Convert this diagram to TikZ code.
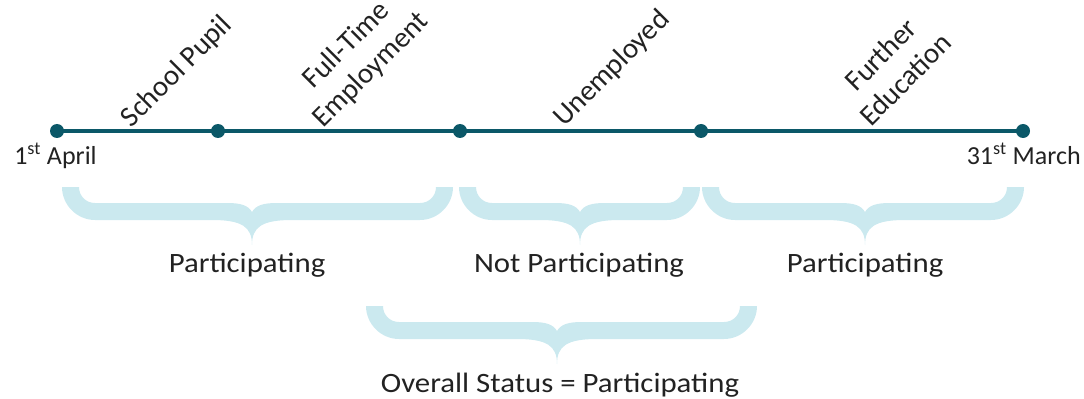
\documentclass[tikz,border=0pt]{standalone}
\usepackage{fontspec}
\setmainfont{Carlito}
\newfontfamily\labfont{Carlito}[FakeStretch=1.1]
\definecolor{tlteal}{RGB}{11,88,104}
\definecolor{bracecol}{RGB}{203,233,239}
\definecolor{txt}{RGB}{34,34,34}
\newcommand{\cbrace}[4]{% #1 left, #2 right, #3 tip x, #4 top y
  \fill[bracecol] (#1,#4) -- ({#1+17},#4)
    .. controls ({#1+17},{#4+9}) and ({#1+24},{#4+16}) .. ({#1+33},{#4+16})
    -- ({#3-25},{#4+16})
    .. controls ({#3-12},{#4+16}) and ({#3-4},{#4+18}) .. (#3,{#4+25})
    .. controls ({#3+4},{#4+18}) and ({#3+12},{#4+16}) .. ({#3+25},{#4+16})
    -- ({#2-33},{#4+16})
    .. controls ({#2-24},{#4+16}) and ({#2-17},{#4+9}) .. ({#2-17},#4)
    -- (#2,#4)
    .. controls (#2,{#4+18}) and ({#2-15},{#4+33}) .. ({#2-33},{#4+33})
    -- ({#3+40},{#4+33})
    .. controls ({#3+10},{#4+33}) and (#3,{#4+40}) .. (#3,{#4+58})
    .. controls (#3,{#4+40}) and ({#3-10},{#4+33}) .. ({#3-40},{#4+33})
    -- ({#1+33},{#4+33})
    .. controls ({#1+15},{#4+33}) and (#1,{#4+18}) .. (#1,#4) -- cycle;}
\begin{document}
\begin{tikzpicture}[x=0.75pt,y=-0.75pt,
  dot/.style={circle,fill=tlteal,inner sep=0pt,minimum size=10.5pt},
  tl/.style={draw=tlteal,line width=3pt},
  rot/.style={rotate=45,text=txt,inner sep=0pt,align=center,font=\fontsize{21.75}{26}\selectfont},
  datelab/.style={text=txt,inner sep=0pt,font=\fontsize{19.5}{23}\selectfont},
  statlab/.style={text=txt,inner sep=0pt,font=\labfont\fontsize{21}{25}\selectfont}]
\useasboundingbox (0,0) rectangle (1084,399);
% braces
\cbrace{62}{453}{252}{187}
\cbrace{459}{700}{580}{187}
\cbrace{702}{1024}{865}{187}
\cbrace{366}{757}{557}{306}
% timeline
\coordinate (s) at (57,131);
\coordinate (e) at (1023,131);
\draw[tl] (s) -- (e);
\node[dot] (d1) at (57,131) {};
\node[dot] (d2) at (218,131) {};
\node[dot] (d3) at (460,131) {};
\node[dot] (d4) at (701,131) {};
\node[dot] (d5) at (1023,131) {};
% rotated labels
\node[rot] (sp) at (177,72) {School Pupil};
\node[rot] (ft) at (359,58) {Full-Time\\Employment};
\node[rot] (un) at (612,69) {Unemployed};
\node[rot] (fe) at (893,67) {Further\\Education};
% dates
\node[datelab,anchor=base west] (ap) at (14,165) {1\textsuperscript{st} April};
\node[datelab,anchor=base east] (mr) at (1081,165) {31\textsuperscript{st} March};
% status labels
\node[statlab,anchor=base] (p1) at (247,272) {Participating};
\node[statlab,anchor=base] (np) at (579,272) {Not Participating};
\node[statlab,anchor=base] (p2) at (865,272) {Participating};
\node[statlab,anchor=base] (ov) at (560,392) {Overall Status = Participating};
\end{tikzpicture}
\end{document}
